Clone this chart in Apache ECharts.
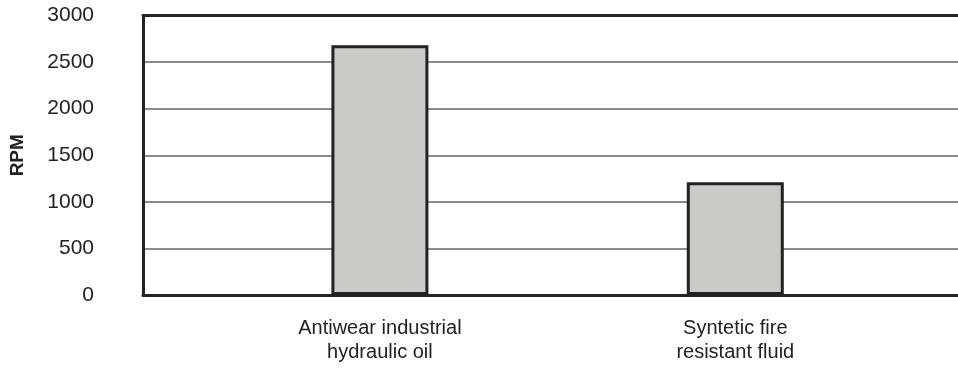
<!DOCTYPE html>
<html>
<head>
<meta charset="utf-8">
<script src="https://cdn.jsdelivr.net/npm/echarts@6/dist/echarts.min.js"></script>
<style>
html,body{margin:0;padding:0;background:#fff;}
#chart{width:958px;height:369px;}
</style>
</head>
<body>
<div id="chart"></div>
<script>
// Data
var categories = ['Antiwear industrial\nhydraulic oil', 'Syntetic fire\nresistant fluid'];
var rpmValues = [2680, 1210];
var yTicks = [0, 500, 1000, 1500, 2000, 2500, 3000];
var yAxisName = 'RPM';

// Layout: categories sit on slots of an evenly spaced x axis that runs past the right edge
var slotOf = [2, 5];
var slotMax = 6.88;

var seriesData = [];
for (var j = 0; j < categories.length; j++) {
  seriesData.push([slotOf[j], rpmValues[j]]);
}
var FONT = 'Liberation Sans, Arial, Helvetica, sans-serif';

var chart = echarts.init(document.getElementById('chart'), null, {renderer: 'canvas'});
chart.setOption({
  animation: false,
  backgroundColor: '#ffffff',
  grid: {left: 143, right: 0, top: 15.5, bottom: 74, show: false},
  xAxis: [{
    type: 'value',
    min: 0, max: slotMax, interval: 1,
    position: 'bottom',
    axisLine: {show: true, onZero: false, lineStyle: {color: '#222222', width: 3}},
    axisTick: {show: false},
    splitLine: {show: false},
    axisLabel: {
      showMinLabel: false, showMaxLabel: false,
      color: '#222', fontSize: 20, lineHeight: 24, fontFamily: FONT, margin: 21,
      formatter: function (v) {
        var k = slotOf.indexOf(Math.round(v));
        return (k >= 0 && Math.abs(v - slotOf[k]) < 1e-6) ? categories[k] : '';
      }
    }
  }, {
    type: 'value',
    min: 0, max: slotMax, interval: 1,
    position: 'top',
    axisLine: {show: true, onZero: false, lineStyle: {color: '#222222', width: 3}},
    axisTick: {show: false},
    axisLabel: {show: false},
    splitLine: {show: false}
  }],
  yAxis: {
    type: 'value',
    min: yTicks[0], max: yTicks[yTicks.length - 1], interval: yTicks[1] - yTicks[0],
    name: yAxisName,
    nameLocation: 'middle',
    nameGap: 116,
    nameRotate: 90,
    nameTextStyle: {fontSize: 19, fontWeight: 'bold', color: '#222', fontFamily: FONT},
    axisLine: {show: true, onZero: false, lineStyle: {color: '#222222', width: 3}},
    axisTick: {show: false},
    axisLabel: {color: '#222', fontSize: 21, margin: 49, fontFamily: FONT,
      formatter: function (v) { return String(v); }},
    splitLine: {show: true, lineStyle: {color: '#666666', width: 1.5}}
  },
  series: [{
    type: 'bar',
    data: seriesData,
    barWidth: 97,
    itemStyle: {color: '#cccac6', borderColor: '#222222', borderWidth: 3},
    z: 3
  }]
});
</script>
</body>
</html>
